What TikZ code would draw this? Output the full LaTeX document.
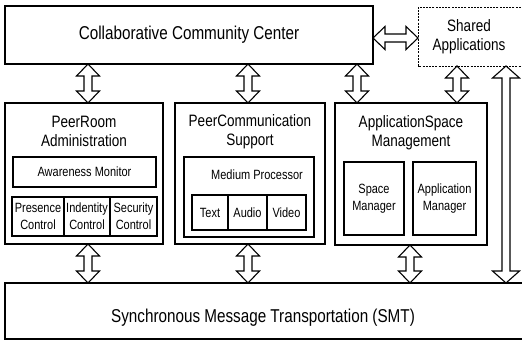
\documentclass[tikz,border=0pt]{standalone}
\usepackage{fontspec}
\setmainfont{Liberation Sans}[FakeStretch=0.82]
\usetikzlibrary{calc,positioning}

\newcommand{\dblarr}[3][11.5pt]{%
  \draw[blockarr] let \p1=(#2), \p2=(#3),
    \n1={veclen(\x2-\x1,\y2-\y1)}, \n2={atan2(\y2-\y1,\x2-\x1)} in
    [shift={(\p1)},rotate=\n2]
    (0pt,0pt) -- (12pt,#1) -- (12pt,4pt) -- (\n1-12pt,4pt) -- (\n1-12pt,#1)
    -- (\n1,0pt) -- (\n1-12pt,-#1) -- (\n1-12pt,-4pt) -- (12pt,-4pt)
    -- (12pt,-#1) -- cycle;}

\begin{document}
\begin{tikzpicture}[x=1pt,y=-1pt,
 every node/.style={align=center,inner sep=0pt,outer sep=0pt},
 box/.style={draw,line width=1.2pt,anchor=north west},
 cell/.style={draw,line width=1.2pt,anchor=north west},
 bigtxt/.style={font=\fontsize{18.6}{21}\selectfont},
 midtxt/.style={font=\fontsize{16.5}{19}\selectfont},
 smtxt/.style={font=\fontsize{13.4}{17}\selectfont},
 blockarr/.style={draw,fill=white,line width=1.1pt,line join=miter}]
 \useasboundingbox (0,0) rectangle (522,341);
 \clip (0,0) rectangle (522,341);

 \node[box,bigtxt,minimum width=368pt,minimum height=58pt] (ccc) at (5,6) {Collaborative Community Center};
 \node[midtxt,anchor=north west,minimum width=102pt,minimum height=59pt] (sh) at (418,7) {Shared\\Applications};
 \draw[line width=.9pt,dash pattern=on 2pt off 1.2pt] (sh.north east) ++(4,0) -- (sh.north west) -- (sh.south west) -- ++(106,0);

 % PeerRoom
 \node[box,minimum width=158pt,minimum height=141pt] (pr) at (5,103) {};
 \node[midtxt] (prt) at (84,131.5) {PeerRoom\\Administration};
 \node[box,smtxt,minimum width=143pt,minimum height=30pt] (aw) at (13,157) {Awareness Monitor};
 \node[cell,smtxt,minimum width=52pt,minimum height=39pt] (pres) at (12,197) {Presence\\Control};
 \node[cell,smtxt,minimum width=46pt,minimum height=39pt,right=0pt of pres] (ident) {Indentity\\Control};
 \node[cell,smtxt,minimum width=47pt,minimum height=39pt,right=0pt of ident] (secu) {Security\\Control};

 % PeerCommunication
 \node[box,minimum width=150pt,minimum height=141pt] (pc) at (175,103) {};
 \node[midtxt] (pct) at (250,131.5) {PeerCommunication\\Support};
 \node[box,minimum width=130pt,minimum height=80pt] (mp) at (184,157) {};
 \node[smtxt] (mpt) at (257,175) {Medium Processor};
 \node[cell,smtxt,minimum width=36pt,minimum height=35pt] (txt) at (192,195) {Text};
 \node[cell,smtxt,minimum width=39pt,minimum height=35pt,right=0pt of txt] (aud) {Audio};
 \node[cell,smtxt,minimum width=39pt,minimum height=35pt,right=0pt of aud] (vid) {Video};

 % ApplicationSpace
 \node[box,minimum width=152pt,minimum height=142pt] (ap) at (335,103) {};
 \node[midtxt] (apt) at (411,132.5) {ApplicationSpace\\Management};
 \node[box,smtxt,minimum width=60pt,minimum height=73pt] (spm) at (344,162) {Space\\Manager};
 \node[box,smtxt,minimum width=63pt,minimum height=73pt] (apm) at (413,162) {Application\\Manager};

 % SMT
 \node[anchor=north west,minimum width=517pt,minimum height=56pt] (smt) at (5,283) {};
 \draw[line width=1.2pt] (smt.north east) -- (smt.north west) -- (smt.south west) -- (smt.south east);
 \node[bigtxt] (smtt) at (263,318) {Synchronous Message Transportation (SMT)};

 \dblarr{ccc.east |- 0,38}{sh.west |- 0,38}
 \dblarr{ccc.south -| 88,0}{pr.north -| 88,0}
 \dblarr{ccc.south -| 248,0}{pc.north -| 248,0}
 \dblarr{ccc.south -| 357,0}{ap.north -| 357,0}
 \dblarr{sh.south -| 457,0}{ap.north -| 457,0}
 \dblarr{pr.south -| 88,0}{smt.north -| 88,0}
 \dblarr{pc.south -| 248,0}{smt.north -| 248,0}
 \dblarr{ap.south -| 410,0}{smt.north -| 410,0}
 \dblarr[13.5pt]{sh.south -| 506,0}{smt.north -| 506,0}
\end{tikzpicture}
\end{document}
